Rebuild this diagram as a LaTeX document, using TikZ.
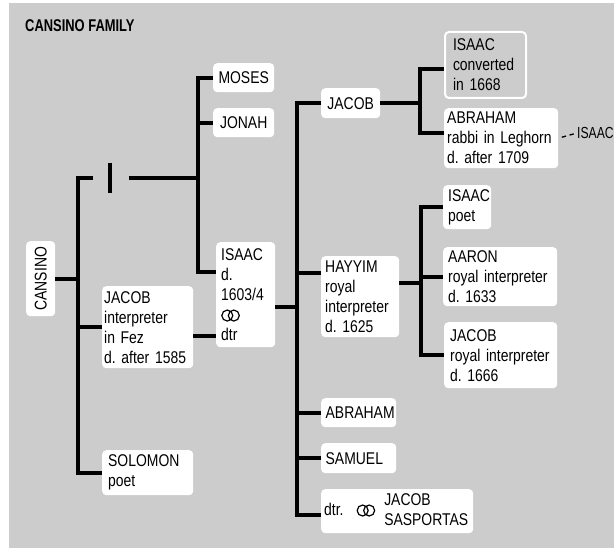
\documentclass[tikz,border=0pt]{standalone}
\usepackage{fontspec}
\setmainfont[FakeStretch=0.82]{Liberation Sans}
\newfontfamily\narrowfont[FakeStretch=0.76]{Liberation Sans}
\usetikzlibrary{calc}
\definecolor{bggrey}{RGB}{204,204,204}
\newcommand\boxfont{\fontsize{17}{20}\selectfont}
\newcommand\rings{\tikz[baseline=-5pt]
    \draw[line width=1.2pt] (0pt,0pt) circle (5.5pt) (6.5pt,0pt) circle (5.5pt);}

\begin{document}
\begin{tikzpicture}[x=1pt, y=-1pt,
    person/.style={fill=white, rounded corners=4pt, anchor=north west, align=left,
                   inner xsep=5pt, inner ysep=0pt, font=\boxfont},
    single/.style={person, align=center},
    link/.style={line width=4pt},
    hint/.style={line width=1.3pt, dash pattern=on 4.5pt off 3.5pt, dash phase=4.5pt}
]
    \useasboundingbox (0,0) rectangle (614,548);
    \fill[bggrey] (9,3) rectangle (614,548);

    \node[anchor=base west, inner sep=0pt, font=\boxfont\narrowfont\bfseries] (title) at (25,32) {CANSINO FAMILY};

    % first generations
    \node[single, minimum width=29pt, minimum height=75pt] (cansino) at (26,241) {\rotatebox{90}{CANSINO}};
    \node[person, inner xsep=2pt, text width=87pt, minimum height=82pt] (jacobfez) at (102,286)
        {JACOB\\interpreter\\in~Fez\\d.~after~1585};
    \node[person, inner xsep=6pt, text width=79pt, minimum height=45pt] (solomon) at (102,450)
        {SOLOMON\\poet};
    \node[single, minimum width=61pt, minimum height=29pt] (moses) at (213,63) {MOSES};
    \node[single, minimum width=61pt, minimum height=29pt] (jonah) at (213,108) {JONAH};
    \node[person, text width=49pt, minimum height=105pt] (isaac1) at (216,242)
        {ISAAC\\d.\\1603/4\\\rings\\dtr};

    % children of Isaac
    \node[single, minimum width=59pt, minimum height=30pt] (jacob2) at (321,88) {JACOB};
    \node[person, inner xsep=4pt, text width=70pt, minimum height=81pt] (hayyim) at (321,256)
        {HAYYIM\\royal\\interpreter\\d.~1625};
    \node[person, inner xsep=4.5pt, text width=66pt, minimum height=29pt] (abraham1) at (321,398) {ABRAHAM};
    \node[person, inner xsep=4.5pt, text width=66pt, minimum height=30pt] (samuel) at (321,443) {SAMUEL};
    \node[person, inner xsep=3pt, text width=146pt, minimum height=44pt] (dtr) at (321,489)
        {dtr.\hspace*{13pt}\rings\hspace*{9pt}\begin{tabular}{@{}l@{}}JACOB\\SASPORTAS\end{tabular}};

    % grandchildren
    \node[person, fill=bggrey, draw=white, line width=2pt, inner xsep=8pt, text width=65pt,
          minimum height=66pt] (isaacconv) at (444,31) {ISAAC\\converted\\in~1668};
    \node[person, inner xsep=3pt, text width=108pt, minimum height=60pt] (abraham2) at (444,108)
        {ABRAHAM\\rabbi~in~Leghorn\\d.~after~1709};
    \node[anchor=west, inner sep=0pt, font=\fontsize{16}{20}\narrowfont] (isaacL) at (577,133) {ISAAC};
    \node[person, text width=38pt, minimum height=44pt] (isaacpoet) at (443,185) {ISAAC\\poet};
    \node[person, text width=104pt, minimum height=59pt] (aaron) at (443,247)
        {AARON\\royal~interpreter\\d.~1633};
    \node[person, inner xsep=6pt, text width=101pt, minimum height=66pt] (jacob3) at (444,322)
        {JACOB\\royal~interpreter\\d.~1666};

    % branch points
    \coordinate (gap) at (110,178);
    \coordinate (tA) at (78,178);
    \coordinate (tB) at (198,272);
    \coordinate (wed) at (205,336);
    \coordinate (iC) at (250,307);
    \coordinate (hC) at (300,273);
    \coordinate (tC) at (297,515);
    \coordinate (jD) at (430,69);
    \coordinate (tD) at (420,133);
    \coordinate (hE) at (410,283);
    \coordinate (tE) at (421,355);

    % Cansino line
    \draw[link] ($(gap)+(-17,0)$) -- (tA) |- (solomon.west);
    \draw[link] (cansino.east) -- (cansino.east -| tA);
    \draw[link] (jacobfez.west) -- (jacobfez.west -| tA);
    \draw[line width=3.5pt] ($(gap)+(0,-15)$) -- ($(gap)+(0,15)$);
    \draw[link] ($(gap)+(19,0)$) -- (gap -| tB);
    \draw[link] (moses.west) -| (tB) -- (tB -| isaac1.west);
    \draw[link] (jonah.west) -- (jonah.west -| tB);
    \draw[link] (wed -| jacobfez.east) -- (wed -| isaac1.west);

    % Isaac's children
    \draw[link] (iC -| isaac1.east) -- (iC -| tC);
    \draw[link] (jacob2.west) -| (tC) -- (tC -| dtr.west);
    \draw[link] (hC -| tC) -- (hC -| hayyim.west);
    \draw[link] (abraham1.west) -- (abraham1.west -| tC);
    \draw[link] (samuel.west) -- (samuel.west -| tC);

    % Jacob's and Hayyim's children
    \draw[link] (jacob2.east) -- (jacob2.east -| tD);
    \draw[link] (jD -| isaacconv.west) -| (tD) -- (tD -| abraham2.west);
    \draw[hint] (abraham2.east) -- (isaacL.west);
    \draw[link] (hE -| hayyim.east) -- (hE -| tE);
    \draw[link] (isaacpoet.west) -| (tE) -- (tE -| jacob3.west);
    \draw[link] (aaron.west) -- (aaron.west -| tE);
\end{tikzpicture}
\end{document}
